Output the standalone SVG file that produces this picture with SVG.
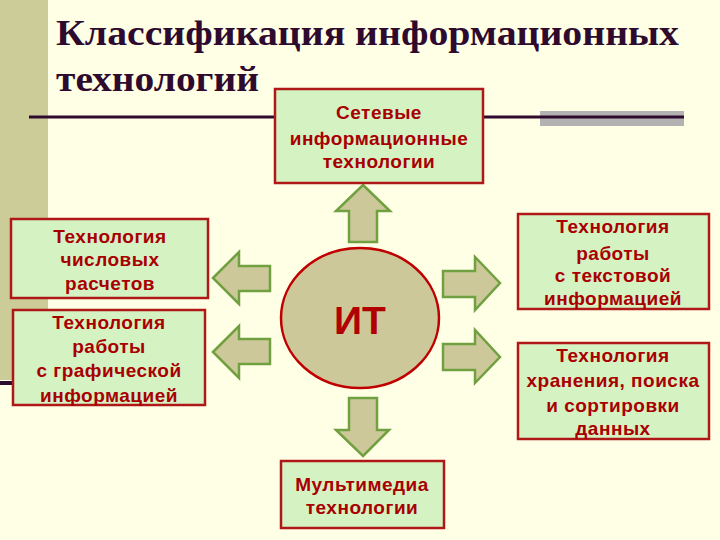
<svg xmlns="http://www.w3.org/2000/svg" width="720" height="540" viewBox="0 0 720 540">
<style>
.box{fill:#D5F2C3;stroke:#B01818;stroke-width:2.5}
.bt{font-family:"Liberation Sans",Arial,sans-serif;font-weight:bold;font-size:19px;letter-spacing:0.5px;fill:#A80000;text-anchor:middle}
.arr{fill:#CCC89A;stroke:#70A040;stroke-width:2.5;stroke-linejoin:miter}
.title{font-family:"Liberation Serif","Times New Roman",serif;font-weight:bold;font-size:36px;fill:#2E0B2E}
</style>
<rect x="0" y="0" width="720" height="540" fill="#FFFFE6"/>
<g id="decor">
<rect x="0" y="0" width="48" height="380" fill="#CCCC99"/>
<line x1="0" y1="383" x2="14" y2="383" stroke="#2E0B2E" stroke-width="4"/>
<rect x="540" y="111" width="144" height="15" fill="#B2B2B2"/>
<line x1="29" y1="117" x2="684" y2="117" stroke="#2E0B2E" stroke-width="3"/>
</g>
<g id="title">
<text class="title" x="56" y="45" textLength="623" lengthAdjust="spacingAndGlyphs">Классификация информационных</text>
<text class="title" x="56" y="91" textLength="203" lengthAdjust="spacingAndGlyphs">технологий</text>
</g>
<g id="connectors">
<polygon class="arr" points="363,185 390,211 377,211 377,242 349,242 349,211 336,211"/>
<polygon class="arr" points="363,456 389,430 377,430 377,398 349,398 349,430 336,430"/>
<polygon class="arr" points="213,278 239,252 239,266 270,266 270,291 239,291 239,304"/>
<polygon class="arr" points="213,352 239,326 239,339 270,339 270,364 239,364 239,378"/>
<polygon class="arr" points="500,283 475,257 475,271 443,271 443,297 475,297 475,310"/>
<polygon class="arr" points="500,357 475,330 475,344 443,344 443,370 475,370 475,383"/>
</g>
<g id="it">
<ellipse cx="360" cy="318" rx="79" ry="70" fill="#CCC89A" stroke="#C00000" stroke-width="2.5"/>
<text x="360" y="334" font-family="Liberation Sans,Arial,sans-serif" font-weight="bold" font-size="39" fill="#B00000" text-anchor="middle">ИТ</text>
</g>
<g id="network">
<rect class="box" x="275" y="89" width="208" height="94"/>
<text class="bt" x="379" y="119">Сетевые</text>
<text class="bt" x="379" y="145">информационные</text>
<text class="bt" x="379" y="168">технологии</text>
</g>
<g id="numeric">
<rect class="box" x="11" y="219" width="197" height="79"/>
<text class="bt" x="110" y="243">Технология</text>
<text class="bt" x="110" y="266">числовых</text>
<text class="bt" x="110" y="290">расчетов</text>
</g>
<g id="graphic">
<rect class="box" x="13" y="310" width="192" height="95"/>
<text class="bt" x="109" y="329">Технология</text>
<text class="bt" x="109" y="353">работы</text>
<text class="bt" x="109" y="377">с графической</text>
<text class="bt" x="109" y="402">информацией</text>
</g>
<g id="text">
<rect class="box" x="518" y="214" width="191" height="95"/>
<text class="bt" x="613" y="233">Технология</text>
<text class="bt" x="613" y="260">работы </text>
<text class="bt" x="613" y="282">с текстовой</text>
<text class="bt" x="613" y="305">информацией</text>
</g>
<g id="storage">
<rect class="box" x="518" y="343" width="191" height="96"/>
<text class="bt" x="613" y="362">Технология</text>
<text class="bt" x="613" y="387">хранения, поиска</text>
<text class="bt" x="613" y="412">и сортировки</text>
<text class="bt" x="613" y="435">данных</text>
</g>
<g id="multimedia">
<rect class="box" x="281" y="461" width="163" height="67"/>
<text class="bt" x="362" y="491">Мультимедиа</text>
<text class="bt" x="362" y="514">технологии </text>
</g>
</svg>
